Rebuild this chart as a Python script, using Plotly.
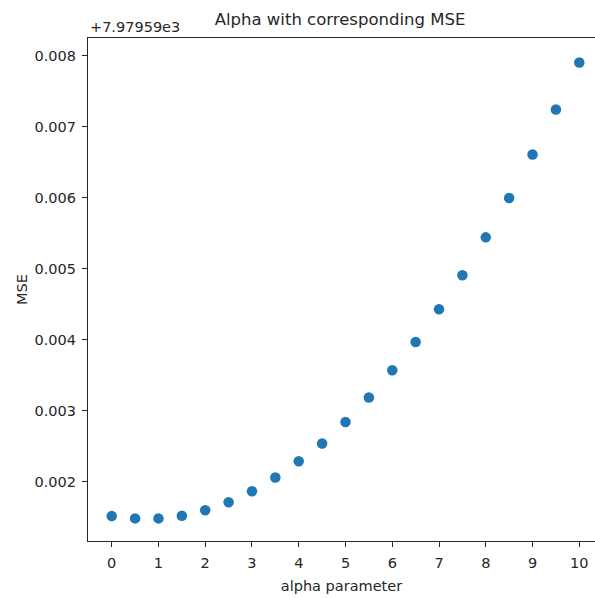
import plotly.graph_objects as go

alpha = [0, 0.5, 1, 1.5, 2, 2.5, 3, 3.5, 4, 4.5, 5, 5.5, 6, 6.5, 7, 7.5, 8, 8.5, 9, 9.5, 10]
# MSE minus the offset 7979.59 (shown as "+7.97959e3" on the axis)
mse_offset_label = "+7.97959e3"
mse_resid = [0.001519, 0.001487, 0.001487, 0.001525, 0.001602, 0.001715, 0.001869,
             0.002062, 0.002291, 0.002540, 0.002844, 0.003187, 0.003571, 0.003969,
             0.004429, 0.004907, 0.005441, 0.005994, 0.006608, 0.007241, 0.007902]
x_ticks = list(range(0, 11))
y_ticks = [0.002, 0.003, 0.004, 0.005, 0.006, 0.007, 0.008]

FONT = "DejaVu Sans"
AX = "#262626"

fig = go.Figure()
fig.add_trace(go.Scatter(
    x=alpha, y=mse_resid, mode="markers",
    marker=dict(color="#1f77b4", size=10.5, line=dict(width=0)),
    showlegend=False,
))

fig.update_layout(
    width=595, height=598,
    margin=dict(l=88, r=0, t=38, b=57),
    paper_bgcolor="white", plot_bgcolor="white",
    font=dict(family=FONT, size=14.5, color=AX),
    title=dict(text="Alpha with corresponding MSE", x=340 / 595, xanchor="center",
               y=1 - 19 / 598, yanchor="middle", font=dict(size=16.5, color=AX)),
    xaxis=dict(
        range=[-0.507, 10.336], tickvals=x_ticks, ticktext=[str(v) for v in x_ticks],
        showgrid=False, zeroline=False, showline=True, linecolor=AX, linewidth=1.2,
        mirror=True, ticks="outside", ticklen=5, tickcolor=AX, ticklabelstandoff=3,
        title=dict(text="alpha parameter", standoff=11, font=dict(size=14.5)),
    ),
    yaxis=dict(
        range=[0.001169, 0.008246], tickvals=y_ticks, ticktext=[f"{v:.3f}" for v in y_ticks],
        showgrid=False, zeroline=False, showline=True, linecolor=AX, linewidth=1.2,
        ticks="outside", ticklen=5, tickcolor=AX, ticklabelstandoff=3,
        title=dict(text="MSE", standoff=3, font=dict(size=14.5)),
    ),
    annotations=[dict(
        text=mse_offset_label, xref="paper", yref="paper", x=0, y=1,
        xanchor="left", yanchor="bottom", yshift=1, showarrow=False,
        font=dict(size=14.5, color=AX),
    )],
)

fig.write_html("out.html")
